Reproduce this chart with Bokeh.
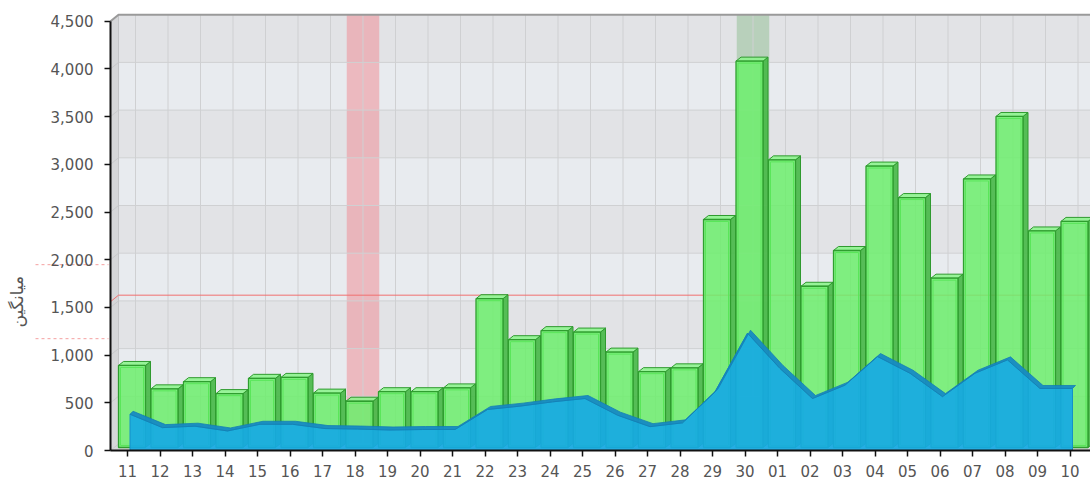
import numpy as np
from bokeh.plotting import figure
from bokeh.models import Range1d, LinearAxis, FixedTicker, NumeralTickFormatter
from bokeh.core.properties import value
from bokeh.embed import file_html
from bokeh.resources import INLINE

# ---------------- data ----------------
categories = ["11", "12", "13", "14", "15", "16", "17", "18", "19", "20",
              "21", "22", "23", "24", "25", "26", "27", "28", "29", "30",
              "01", "02", "03", "04", "05", "06", "07", "08", "09", "10"]
bar_values = [860, 615, 690, 565, 725, 735, 570, 485, 585, 585,
              625, 1560, 1130, 1225, 1210, 1000, 795, 835, 2390, 4050,
              3015, 1690, 2065, 2950, 2620, 1775, 2815, 3470, 2270, 2370]
area_values = [380, 240, 255, 205, 275, 275, 230, 225, 215, 220,
               220, 430, 465, 510, 545, 370, 250, 290, 615, 1230,
               860, 545, 685, 985, 810, 565, 810, 950, 650, 650]
y_ticks = [0, 500, 1000, 1500, 2000, 2500, 3000, 3500, 4000, 4500]
red_band_categories = ["18"]
green_band_categories = ["30"]
average = 1560
average_label = "میانگین"

# ---------------- layout constants (pixels) ----------------
W, H = 1090, 482
CAT_PX = 32.5          # pixels per category
UNIT_PX = 0.0954       # pixels per value unit
FIRST_CAT_PX = 127     # x of the first category tick
ZERO_PX = 450          # y of the value 0


def xpx(px):
    return px / CAT_PX


def ypx(px):
    return px / UNIT_PX


def x_at(px):
    return (px - FIRST_CAT_PX) / CAT_PX


n = len(categories)
idx = np.arange(n, dtype=float)
vals = np.array(bar_values, dtype=float)
area = np.array(area_values, dtype=float)

x_start, x_end = x_at(0), x_at(W)
y_start, y_end = -ypx(H - ZERO_PX), ypx(ZERO_PX)
x_axis = x_at(110)
WALL_DX, WALL_DY = xpx(8), ypx(6.5)
x_wall = x_axis + WALL_DX
wall_top = y_ticks[-1] + WALL_DY

p = figure(width=W, height=H, x_range=Range1d(x_start, x_end), y_range=Range1d(y_start, y_end),
           output_backend="svg", toolbar_location=None,
           x_axis_location=None, y_axis_location=None,
           min_border_left=0, min_border_right=0, min_border_top=0, min_border_bottom=0,
           outline_line_color=None, background_fill_color="white", border_fill_color="white")
p.grid.visible = False

# ---------------- walls ----------------
band_colors = ["#e8ebef" if k % 2 == 1 else "#e2e3e6" for k in range(len(y_ticks) - 1)]
p.quad(left=x_wall, right=x_end,
       bottom=[t + WALL_DY for t in y_ticks[:-1]],
       top=[t + WALL_DY for t in y_ticks[1:]],
       fill_color=band_colors, line_color=None)
p.patch([x_axis, x_axis, x_wall, x_wall], [0, y_ticks[-1], wall_top, WALL_DY],
        fill_color="#d6d7d9", line_color=None)
p.patch([x_axis, x_wall, x_end, x_end], [0, WALL_DY, WALL_DY, 0],
        fill_color="#d6d7d9", line_color=None)

# highlighted bands
red_idx = np.array([categories.index(c) for c in red_band_categories], dtype=float)
green_idx = np.array([categories.index(c) for c in green_band_categories], dtype=float)
p.quad(left=red_idx - 0.5 + WALL_DX, right=red_idx + 0.5 + WALL_DX,
       bottom=WALL_DY, top=wall_top, fill_color="#f08890", fill_alpha=0.5, line_color=None)
p.quad(left=green_idx - 0.5 + WALL_DX, right=green_idx + 0.5 + WALL_DX,
       bottom=WALL_DY, top=wall_top, fill_color="#64aa64", fill_alpha=0.33, line_color=None)

# grid lines on the back wall / left wall
gy = [t + WALL_DY for t in y_ticks[:-1]]
p.segment(x0=x_wall, x1=x_end, y0=gy, y1=gy, line_color="#cfd0d2", line_width=1)
p.segment(x0=x_axis, x1=x_wall, y0=y_ticks[:-1], y1=gy, line_color="#c8c9cb", line_width=1)
p.segment(x0=idx + WALL_DX, x1=idx + WALL_DX, y0=WALL_DY, y1=wall_top,
          line_color="#cfd0d2", line_width=1)
p.segment(x0=[x_wall], x1=[x_wall], y0=[WALL_DY], y1=[wall_top], line_color="#c4c5c7", line_width=1)
p.line([x_axis, x_wall, x_end], [y_ticks[-1], wall_top, wall_top], line_color="#9a9a9a", line_width=2)

# average line
p.line([x_axis, x_wall, x_end], [average, average + WALL_DY, average + WALL_DY],
       line_color="#f07070", line_width=1)
p.segment(x0=x_at(35), x1=x_at(108), y0=[average + ypx(37), average - ypx(37)],
          y1=[average + ypx(37), average - ypx(37)],
          line_color="#f4a0a0", line_width=1, line_dash="3 3")
p.text(x=[x_at(16)], y=[average], text=[average_label], angle=np.pi / 2,
       text_align="center", text_baseline="middle", text_font=value("DejaVu Sans"),
       text_font_size="17px", text_color="#555555")

# ---------------- 3D bars ----------------
BAR_DX, BAR_HW, BAR_B = xpx(4.5), xpx(13.5), ypx(3)
DEPTH_X, DEPTH_Y = xpx(5), ypx(4)
xl = idx + BAR_DX - BAR_HW
xr = idx + BAR_DX + BAR_HW
top = vals + BAR_B
side_xs = [[a, a + DEPTH_X, a + DEPTH_X, a] for a in xr]
side_ys = [[BAR_B, BAR_B + DEPTH_Y, t + DEPTH_Y, t] for t in top]
p.patches(side_xs, side_ys, fill_color="#46b846", fill_alpha=0.9, line_color="#2f9a2f", line_width=1)
top_xs = [[a, b, b + DEPTH_X, a + DEPTH_X] for a, b in zip(xl, xr)]
top_ys = [[t, t, t + DEPTH_Y, t + DEPTH_Y] for t in top]
p.patches(top_xs, top_ys, fill_color="#8ef48e", fill_alpha=0.9, line_color="#2f9a2f", line_width=1)
p.quad(left=xl, right=xr, bottom=BAR_B, top=top, fill_color="#6cef6c", fill_alpha=0.85,
       line_color="#2f9e2f", line_width=1.3)
p.quad(left=xl + xpx(2), right=xr - xpx(2), bottom=BAR_B + ypx(2), top=top - ypx(2),
       fill_color=None, line_color="#5ae65a", line_width=1)

# ---------------- 3D area ----------------
AREA_DX, ATOP_DX, ATOP_DY = xpx(2.5), xpx(3), ypx(3)
ax = idx + AREA_DX
p.patch(x=[ax[0], *ax, ax[-1]], y=[0, *area, 0], fill_color="#16a9e4", fill_alpha=0.92,
        line_color="#1490c8", line_width=1)
p.patch(x=list(ax) + list((ax + ATOP_DX)[::-1]), y=list(area) + list((area + ATOP_DY)[::-1]),
        fill_color="#168ac4", fill_alpha=0.95, line_color="#147fb4", line_width=0.8)

# ---------------- axes ----------------
label_font = "DejaVu Sans"
xaxis = LinearAxis(fixed_location=0, bounds=(x_axis, x_end), ticker=FixedTicker(ticks=list(range(n))),
                   major_label_overrides={i: c for i, c in enumerate(categories)})
yaxis = LinearAxis(fixed_location=x_axis, bounds=(0, y_ticks[-1]),
                   ticker=FixedTicker(ticks=y_ticks), formatter=NumeralTickFormatter(format="0,0"))
for axis in (xaxis, yaxis):
    axis.axis_line_color = "#111111"
    axis.axis_line_width = 2
    axis.major_tick_line_color = "#111111"
    axis.major_tick_line_width = 1.5
    axis.major_tick_out = 6
    axis.major_tick_in = 0
    axis.minor_tick_line_color = None
    axis.major_label_text_font = label_font
    axis.major_label_text_font_size = "15px"
    axis.major_label_text_color = "#555555"
xaxis.major_label_standoff = 8
yaxis.major_label_standoff = 11
p.add_layout(xaxis, "below")
p.add_layout(yaxis, "left")

open("out.html", "w").write(file_html(p, INLINE))
